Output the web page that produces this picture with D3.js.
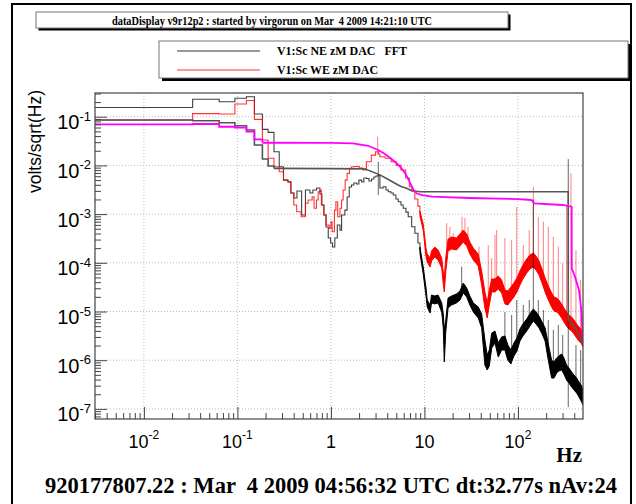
<!DOCTYPE html>
<html>
<head>
<meta charset="utf-8">
<style>
  body { margin: 0; background: #fff; }
  text { white-space: pre; }
</style>
</head>
<body>
<div id="chart"></div>
<script src="https://d3js.org/d3.v7.min.js"></script>
<script>
// ---- values (Hz, volts/sqrt(Hz)) ----

// NE channel (black), binned low-frequency part: [freq, asd]
const neAsd = [
  [0.003, 0.155], [0.0332, 0.228], [0.0638, 0.203], [0.094, 0.239], [0.125, 0.257],
  [0.152, 0.114], [0.185, 0.055], [0.213, 0.0478], [0.246, 0.0191], [0.280, 0.0094],
  [0.311, 0.0050], [0.347, 0.0046], [0.373, 0.00271], [0.402, 0.00214], [0.433, 0.00298],
  [0.486, 9.6e-4], [0.534, 0.00313], [0.596, 0.00271], [0.642, 0.00313], [0.703, 0.00343],
  [0.762, 0.00258], [0.801, 0.00154], [0.842, 9.6e-4], [0.885, 5.43e-4], [0.936, 3.23e-4],
  [0.993, 2.55e-4], [1.04, 2.11e-4], [1.10, 3.23e-4], [1.17, 5.97e-4], [1.25, 4.7e-4],
  [1.30, 9.6e-4], [1.41, 1.21e-3], [1.49, 2.24e-3], [1.57, 3.6e-3], [1.66, 3.96e-3],
  [1.76, 4.35e-3], [1.88, 4.16e-3], [1.99, 5.0e-3], [2.13, 4.56e-3], [2.25, 5.5e-3],
  [2.41, 5.4e-3], [2.55, 4.78e-3], [2.72, 5.25e-3], [2.88, 5.77e-3], [3.03, 6.05e-3],
  [3.21, 6.35e-3], [3.34, 3.43e-3], [3.62, 3.65e-3], [3.88, 3.13e-3], [4.10, 2.88e-3],
  [4.38, 2.71e-3], [4.64, 2.47e-3], [4.95, 2.04e-3], [5.25, 1.8e-3], [5.61, 1.54e-3],
  [5.93, 1.32e-3], [6.34, 1.1e-3], [6.71, 8.8e-4], [7.30, 5.5e-4], [7.91, 4.04e-4],
  [8.52, 2.55e-4], [8.95, 1.83e-4]
];

// NE channel dense part, min/max per frequency: [freq, hi, lo]
const neBand = [
  [8.95, 2.1e-4, 1.58e-4], [9.7, 8.2e-5, 5.9e-5], [10.4, 3.05e-5, 2.08e-5], [10.7, 1.72e-5, 1.24e-5],
  [11.5, 1.36e-5, 9.3e-6], [11.9, 2.18e-5, 1.5e-5], [12.9, 2.08e-5, 1.43e-5], [14, 2.18e-5, 1.5e-5],
  [15.3, 1.5e-5, 9.8e-6], [15.9, 8.9e-6, 4.6e-6], [16.3, 4.2e-6, 9.2e-7], [16.9, 6.7e-6, 3.8e-6],
  [17.9, 1.9e-5, 1.18e-5], [19.5, 2.08e-5, 1.36e-5], [22, 2.29e-5, 1.5e-5], [24, 2.64e-5, 1.72e-5],
  [26, 3.85e-5, 2.4e-5], [28.3, 3.05e-5, 1.99e-5], [30.6, 2.08e-5, 1.36e-5], [33.3, 1.5e-5, 9.8e-6],
  [37.6, 1.24e-5, 7.35e-6], [40.9, 8.9e-6, 4.6e-6], [44.3, 2.6e-6, 7.97e-7], [46.9, 1.28e-6, 6.3e-7],
  [49.4, 1.62e-6, 7.6e-7], [52.4, 3.6e-6, 1.78e-6], [56.8, 3.97e-6, 2.25e-6], [61.6, 2.25e-6, 1.16e-6],
  [66.9, 3.0e-6, 1.62e-6], [72.5, 3.14e-6, 1.62e-6], [78, 2.05e-6, 1.0e-6], [84, 1.62e-6, 8.35e-7],
  [90.5, 2.25e-6, 1.22e-6], [97.6, 2.86e-6, 1.54e-6], [105, 4.37e-6, 2.48e-6], [113, 5.54e-6, 3.14e-6],
  [124, 7.0e-6, 3.97e-6], [134, 8.9e-6, 5.0e-6], [146, 1.13e-5, 6.4e-6], [156, 9.8e-6, 5.54e-6],
  [168, 8.1e-6, 4.6e-6], [181, 6.1e-6, 3.45e-6], [195, 4.6e-6, 2.48e-6], [209, 2.37e-6, 1.11e-6],
  [229, 1.0e-6, 4.3e-7], [243, 9.2e-7, 4.3e-7], [259, 1.11e-6, 5.46e-7], [274, 1.22e-6, 6.0e-7],
  [293, 1.34e-6, 6.3e-7], [310, 1.11e-6, 5.2e-7], [331, 7.97e-7, 3.92e-7], [351, 6.9e-7, 3.4e-7],
  [375, 5.7e-7, 2.8e-7], [397, 4.96e-7, 2.45e-7], [424, 4.3e-7, 2.12e-7], [449, 3.57e-7, 1.76e-7],
  [480, 2.95e-7, 1.38e-7], [495, 2.56e-7, 1.2e-7]
];

// NE lines: [freq, from, to]
const neSpikes = [
  [3.21, 0.00247, 0.0119], [25, 2.76e-5, 8.3e-5], [72.5, 2.25e-6, 9.8e-6], [85.6, 1.28e-6, 8.5e-6],
  [97, 2.05e-6, 1.72e-5], [114, 4.2e-6, 1.36e-5], [132, 6.1e-6, 1.72e-5], [146, 6.4e-6, 2.0e-3],
  [165, 6.7e-6, 1.72e-5], [187, 4.2e-6, 1.07e-5], [211, 1.62e-6, 6.7e-6], [239, 6.3e-7, 4.2e-6],
  [270, 7.97e-7, 5.3e-6], [301, 9.2e-7, 3.3e-6], [345, 1.09e-7, 1.35e-2], [417, 3.1e-7, 2.05e-6],
  [468, 1.93e-7, 1.62e-6]
];

// WE channel (red), binned low-frequency part
const weAsd = [
  [0.003, 0.0856], [0.0332, 0.116], [0.0638, 0.114], [0.094, 0.182], [0.125, 0.215],
  [0.152, 0.0884], [0.185, 0.0332], [0.213, 0.0140], [0.246, 0.0094], [0.280, 0.0074],
  [0.311, 0.0050], [0.347, 0.0046], [0.373, 0.00271], [0.40, 0.00154], [0.43, 0.00112],
  [0.48, 8.8e-4], [0.534, 1.67e-3], [0.57, 1.95e-3], [0.63, 2.28e-3], [0.66, 1.32e-3],
  [0.70, 1.95e-3], [0.73, 2.88e-3], [0.77, 3.13e-3], [0.79, 1.54e-3], [0.84, 9.6e-4],
  [0.89, 5.97e-4], [0.96, 5.1e-4], [1.0, 6.98e-4], [1.03, 4.35e-4], [1.09, 1.21e-3],
  [1.13, 1.8e-3], [1.18, 8.8e-4], [1.25, 1.32e-3], [1.30, 1.95e-3], [1.35, 3.13e-3],
  [1.42, 5.0e-3], [1.49, 6.88e-3], [1.58, 8.7e-3], [1.66, 9.4e-3], [1.8, 9.5e-3],
  [2.0, 8.8e-3], [2.2, 8.05e-3], [2.4, 0.0119], [2.7, 0.0163], [3.0, 0.0191],
  [3.22, 0.0171], [3.34, 0.0151], [3.8, 0.014], [4.4, 0.0119], [5.0, 0.010],
  [5.6, 8.05e-3], [6.3, 5.5e-3], [6.9, 3.65e-3], [7.3, 3.0e-3], [7.9, 2.04e-3],
  [8.5, 1.46e-3], [8.95, 1.05e-3]
];

const weBand = [
  [8.95, 1.15e-3, 9.1e-4], [9.7, 6.25e-4, 4.7e-4], [10.4, 2.0e-4, 1.32e-4], [10.7, 1.52e-4, 1.04e-4],
  [11.5, 1.25e-4, 8.2e-5], [11.9, 1.75e-4, 1.09e-4], [12.9, 2.1e-4, 1.32e-4], [14, 1.83e-4, 1.14e-4],
  [15.3, 1.25e-4, 7.8e-5], [15.9, 6.5e-5, 3.67e-5], [16.3, 4.87e-5, 2.52e-5], [16.9, 1.25e-4, 6.5e-5],
  [17.9, 3.08e-4, 1.75e-4], [19.5, 3.38e-4, 1.92e-4], [22, 3.23e-4, 1.83e-4], [24, 3.9e-4, 2.22e-4],
  [26, 4.7e-4, 2.67e-4], [28.3, 3.9e-4, 2.22e-4], [30.6, 2.67e-4, 1.52e-4], [33.3, 2.0e-4, 1.14e-4],
  [37.6, 1.52e-4, 8.6e-5], [40.9, 6.8e-5, 3.5e-5], [44.3, 2.52e-5, 1.18e-5], [46.9, 1.5e-5, 7.35e-6],
  [49.4, 2.76e-5, 1.36e-5], [52.4, 4.65e-5, 2.52e-5], [56.8, 4.65e-5, 2.52e-5], [61.6, 5.36e-5, 2.9e-5],
  [66.9, 4.43e-5, 2.4e-5], [72.5, 2.76e-5, 1.43e-5], [78, 2.64e-5, 1.36e-5], [84, 3.18e-5, 1.64e-5],
  [90.5, 3.85e-5, 1.99e-5], [97.6, 4.87e-5, 2.52e-5], [105, 6.8e-5, 3.5e-5], [113, 9.0e-5, 4.65e-5],
  [124, 1.2e-4, 6.17e-5], [134, 1.45e-4, 7.46e-5], [146, 1.59e-4, 8.2e-5], [156, 1.38e-4, 7.1e-5],
  [168, 1.09e-4, 5.6e-5], [181, 7.46e-5, 3.85e-5], [195, 4.87e-5, 2.52e-5], [209, 3.5e-5, 1.8e-5],
  [229, 2.4e-5, 1.24e-5], [243, 1.99e-5, 1.02e-5], [259, 1.9e-5, 9.8e-6], [274, 1.72e-5, 8.9e-6],
  [293, 1.43e-5, 7.35e-6], [310, 1.18e-5, 6.1e-6], [331, 9.8e-6, 5.0e-6], [351, 8.5e-6, 4.37e-6],
  [375, 7.7e-6, 3.97e-6], [397, 6.7e-6, 3.45e-6], [424, 5.54e-6, 2.86e-6], [449, 4.8e-6, 2.48e-6],
  [480, 4.2e-6, 2.15e-6], [495, 3.6e-6, 1.86e-6]
];

const weSpikes = [
  [3.16, 0.0163, 0.0388], [17.3, 1.83e-4, 6.5e-4], [18.7, 2.55e-4, 5.5e-4], [20.3, 2.32e-4, 4.1e-4],
  [25.2, 3.23e-4, 8.8e-4], [27.1, 3.5e-4, 8.3e-4], [29.2, 2.9e-4, 5.5e-4], [38.3, 1.25e-4, 2.15e-4],
  [48.1, 1.72e-5, 2.32e-4], [52.4, 4.0e-5, 1.25e-4], [56.8, 4.0e-5, 3.72e-4], [59.2, 4.0e-5, 4.7e-4],
  [72.5, 2.1e-5, 3.23e-4], [85.6, 2.52e-5, 2.9e-4], [97, 3.5e-5, 1.42e-3], [114, 6.5e-5, 2.32e-4],
  [132, 1.04e-4, 4.7e-4], [146, 1.04e-4, 3.65e-3], [165, 1.04e-4, 8.8e-4], [187, 6.5e-5, 6.98e-4],
  [211, 2.76e-5, 5.5e-4], [239, 1.72e-5, 3.43e-4], [270, 1.36e-5, 2.15e-4], [301, 1.18e-5, 9.8e-5],
  [331, 8e-6, 1.54e-3], [369, 6.7e-6, 6.9e-3], [417, 4.2e-6, 1.83e-4], [468, 3.6e-6, 4.43e-5]
];

// integrated rms curves (binned part, then smooth part)
const neRmsBins = [
  [0.003, 0.0856], [0.0332, 0.0828], [0.0638, 0.0753], [0.094, 0.0653], [0.125, 0.0533],
  [0.152, 0.0262], [0.185, 0.0135], [0.213, 0.0097], [0.246, 0.0087]
];
const neRms = [
  [0.246, 0.0087], [1.0, 0.0086], [2.3, 0.0085], [3.34, 0.0064], [4.07, 0.0052], [4.84, 0.0043],
  [5.61, 0.0037], [6.45, 0.0034], [7.3, 0.00302], [8.12, 0.00294], [8.95, 0.00287],
  [344.5, 0.00287], [345, 6.7e-6], [407, 4.6e-6], [495, 2.25e-6]
];
const weRmsBins = [
  [0.003, 0.0698], [0.0332, 0.0708], [0.0638, 0.0623], [0.094, 0.0595], [0.125, 0.0492],
  [0.152, 0.0343], [0.185, 0.0292]
];
const weRms = [
  [0.185, 0.0292], [1.0, 0.029], [1.72, 0.0284], [2.5, 0.0253], [3.2, 0.0207], [3.78, 0.0171],
  [4.38, 0.0139], [5.0, 0.0112], [5.6, 0.009], [6.3, 0.0067], [7.0, 0.00445], [7.6, 0.0032],
  [8.3, 0.00265], [9.5, 0.00246], [12, 0.00228], [30, 0.00214], [100, 0.00204], [139, 0.00195],
  [150, 0.00166], [300, 0.00154], [375, 0.00142], [376, 7.7e-5], [407, 5.2e-5], [449, 2.76e-5],
  [476, 1.07e-5], [495, 2.6e-6]
];

const xTicks = [0.01, 0.1, 1, 10, 100];
const xTickBase = ["10", "10", "1", "10", "10"];
const xTickExp = ["-2", "-1", "", "", "2"];
const yTicks = [1e-1, 1e-2, 1e-3, 1e-4, 1e-5, 1e-6, 1e-7];
const yTickExp = ["-1", "-2", "-3", "-4", "-5", "-6", "-7"];

const titleText = "dataDisplay v9r12p2 : started by virgorun on Mar  4 2009 14:21:10 UTC";
const legendLabels = ["V1:Sc NE zM DAC   FFT", "V1:Sc WE zM DAC"];
const footerText = "920177807.22 : Mar  4 2009 04:56:32 UTC dt:32.77s nAv:24";

// ---- drawing ----
const sans = "'Liberation Sans', Arial, Helvetica, sans-serif";
const serif = "'Liberation Serif', 'Times New Roman', serif";
const W = 636, H = 504;
const frame = {left: 95, right: 583, top: 93, bottom: 419};

const svg = d3.select("#chart").append("svg")
    .attr("width", W)
    .attr("height", H);

// canvas border
svg.append("rect")
    .attr("x", 12).attr("y", 4).attr("width", 619).attr("height", 520)
    .attr("fill", "#fff").attr("stroke", "#000").attr("stroke-width", 2);

// title pave with shadow
svg.append("rect").attr("x", 38.5).attr("y", 14.5).attr("width", 472).attr("height", 16).attr("fill", "#000");
svg.append("rect").attr("x", 36).attr("y", 12).attr("width", 472).attr("height", 16)
    .attr("fill", "#fff").attr("stroke", "#777").attr("stroke-width", 1);
svg.append("text")
    .attr("x", 272).attr("y", 24.8)
    .attr("text-anchor", "middle")
    .attr("textLength", 320).attr("lengthAdjust", "spacingAndGlyphs")
    .style("font-family", serif).style("font-weight", "bold").style("font-size", "13px")
    .text(titleText);

// legend
svg.append("rect").attr("x", 162).attr("y", 44).attr("width", 469).attr("height", 37).attr("fill", "#000");
svg.append("rect").attr("x", 159).attr("y", 41).attr("width", 469).attr("height", 37)
    .attr("fill", "#fff").attr("stroke", "#777").attr("stroke-width", 1);
const legendColors = ["#000", "#f00"];
const legendWidths = [130, 101];
legendLabels.forEach((lab, i) => {
  const ly = 51 + i * 19;
  svg.append("line").attr("x1", 177).attr("x2", 260).attr("y1", ly).attr("y2", ly)
      .attr("stroke", legendColors[i]).attr("stroke-width", 1).attr("stroke-opacity", 0.8);
  svg.append("text").attr("x", 277).attr("y", ly + 4)
      .attr("textLength", legendWidths[i]).attr("lengthAdjust", "spacingAndGlyphs")
      .style("font-family", serif).style("font-weight", "bold").style("font-size", "12px")
      .text(lab);
});

// scales
const x = d3.scaleLog().domain([0.003, 496]).range([frame.left, frame.right]);
const y = d3.scaleLog().domain([6.2e-8, 0.307]).range([frame.bottom, frame.top]);

const isDecade = t => Math.abs(Math.log10(t) - Math.round(Math.log10(t))) < 1e-6;

// grid
const grid = svg.append("g")
    .attr("stroke", "#bbb").attr("stroke-width", 1).attr("stroke-dasharray", "1,2");
grid.selectAll(".gx").data(xTicks).join("line")
    .attr("x1", d => x(d)).attr("x2", d => x(d))
    .attr("y1", frame.top).attr("y2", frame.bottom);
grid.selectAll(".gy").data(yTicks).join("line")
    .attr("y1", d => y(d)).attr("y2", d => y(d))
    .attr("x1", frame.left).attr("x2", frame.right);

// plot area
svg.append("clipPath").attr("id", "clip")
  .append("rect")
    .attr("x", frame.left).attr("y", frame.top)
    .attr("width", frame.right - frame.left).attr("height", frame.bottom - frame.top);
const plot = svg.append("g").attr("clip-path", "url(#clip)");

const stepLine = d3.line().x(d => x(d[0])).y(d => y(d[1])).curve(d3.curveStepAfter);
const smoothLine = d3.line().x(d => x(d[0])).y(d => y(d[1]));
const band = d3.area().x(d => x(d[0])).y0(d => y(d[2])).y1(d => y(d[1]));

function drawSpikes(data, color, opacity) {
  plot.append("g").selectAll("line").data(data).join("line")
      .attr("x1", d => x(d[0])).attr("x2", d => x(d[0]))
      .attr("y1", d => y(d[1])).attr("y2", d => y(d[2]))
      .attr("stroke", color).attr("stroke-width", 1).attr("stroke-opacity", opacity);
}

// NE (black)
plot.append("path").datum(neBand).attr("d", band)
    .attr("fill", "#000").attr("stroke", "#000").attr("stroke-width", 1);
plot.append("path").datum(neAsd).attr("d", stepLine)
    .attr("fill", "none").attr("stroke", "#000").attr("stroke-width", 1.1).attr("stroke-opacity", 0.75);

// WE (red)
plot.append("path").datum(weBand).attr("d", band)
    .attr("fill", "#f00").attr("stroke", "#f00").attr("stroke-width", 1);
plot.append("path").datum(weAsd).attr("d", stepLine)
    .attr("fill", "none").attr("stroke", "#f00").attr("stroke-width", 1.1).attr("stroke-opacity", 0.8);
drawSpikes(weSpikes, "#f00", 0.5);
drawSpikes(neSpikes, "#000", 0.6);

// rms curves
plot.append("path").datum(neRmsBins).attr("d", stepLine)
    .attr("fill", "none").attr("stroke", "#555").attr("stroke-width", 1.6);
plot.append("path").datum(neRms).attr("d", smoothLine)
    .attr("fill", "none").attr("stroke", "#555").attr("stroke-width", 1.6);
plot.append("path").datum(weRmsBins).attr("d", stepLine)
    .attr("fill", "none").attr("stroke", "#f0f").attr("stroke-width", 1.8);
plot.append("path").datum(weRms).attr("d", smoothLine)
    .attr("fill", "none").attr("stroke", "#f0f").attr("stroke-width", 1.8);

// frame
svg.append("rect")
    .attr("x", frame.left).attr("y", frame.top)
    .attr("width", frame.right - frame.left).attr("height", frame.bottom - frame.top)
    .attr("fill", "none").attr("stroke", "#444").attr("stroke-width", 1.2);

// axes (ticks inside the frame)
const xMinor = x.ticks().filter(t => !isDecade(t));
const yMinor = y.ticks().filter(t => !isDecade(t));
function styleAxis(g) {
  g.select(".domain").remove();
  g.selectAll("line").attr("stroke", "#444");
}
svg.append("g").attr("transform", `translate(0,${frame.bottom})`)
    .call(d3.axisBottom(x).tickValues(xMinor).tickSize(-6).tickFormat(""))
    .call(styleAxis);
svg.append("g").attr("transform", `translate(0,${frame.bottom})`)
    .call(d3.axisBottom(x).tickValues(xTicks).tickSize(-12).tickFormat(""))
    .call(styleAxis);
svg.append("g").attr("transform", `translate(${frame.left},0)`)
    .call(d3.axisLeft(y).tickValues(yMinor).tickSize(-6).tickFormat(""))
    .call(styleAxis);
svg.append("g").attr("transform", `translate(${frame.left},0)`)
    .call(d3.axisLeft(y).tickValues(yTicks).tickSize(-12).tickFormat(""))
    .call(styleAxis);

// tick labels
const yl = svg.append("g").selectAll("text").data(yTicks).join("text")
    .attr("x", 91).attr("y", d => y(d) + 12.5)
    .attr("text-anchor", "end")
    .style("font-family", sans);
yl.append("tspan").style("font-size", "20px").text("10");
yl.append("tspan").style("font-size", "13px").attr("dy", -8.5).text((d, i) => yTickExp[i]);

const xl = svg.append("g").selectAll("text").data(xTicks).join("text")
    .attr("x", d => x(d)).attr("y", 448)
    .attr("text-anchor", "middle")
    .style("font-family", sans);
xl.append("tspan").style("font-size", "18px").text((d, i) => xTickBase[i]);
xl.append("tspan").style("font-size", "12px").attr("dy", -9).text((d, i) => xTickExp[i]);

// axis titles
svg.append("text")
    .attr("transform", "translate(41,90) rotate(-90)")
    .attr("text-anchor", "end")
    .style("font-family", sans).style("font-size", "17.5px")
    .text("volts/sqrt(Hz)");
svg.append("text")
    .attr("x", 582).attr("y", 461.5)
    .attr("text-anchor", "end")
    .style("font-family", serif).style("font-weight", "bold").style("font-size", "21px")
    .text("Hz");

// footer
svg.append("text")
    .attr("x", 45).attr("y", 492.5)
    .attr("textLength", 572).attr("lengthAdjust", "spacingAndGlyphs")
    .style("font-family", serif).style("font-weight", "bold").style("font-size", "23px")
    .text(footerText);
</script>
</body>
</html>
